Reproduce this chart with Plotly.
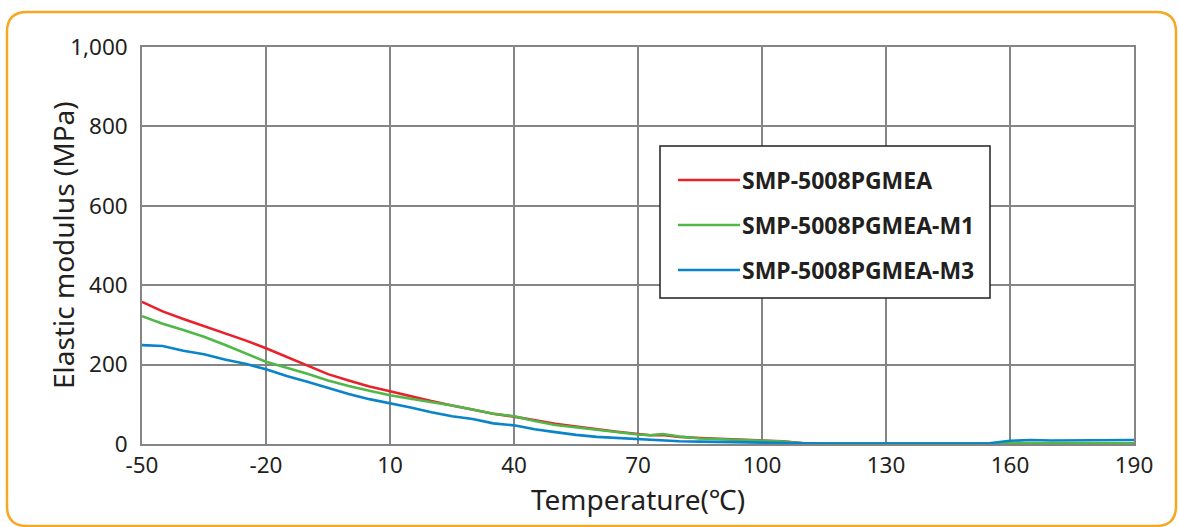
import plotly.graph_objects as go

# ---- data ----
temperature = [-50, -45, -40, -35, -30, -25, -20, -15, -10, -5, 0, 5, 10, 15, 20, 25, 30, 35, 40,
               45, 50, 55, 60, 65, 70, 73, 76, 80, 85, 90, 95, 100, 105, 110, 115, 120, 125, 130,
               135, 140, 145, 150, 155, 160, 165, 170, 175, 180, 185, 190]

smp_5008 = [358, 334, 315, 297, 280, 261, 241, 220, 198, 176, 160, 145, 133, 120, 108, 97, 86, 76, 69,
            60, 51, 44, 37, 31, 25, 22, 23, 18, 15, 13, 12, 10, 7, 2, 1, 1, 1, 1,
            1, 1, 1, 1, 1, 1, 1, 1, 1, 1, 1, 1]
smp_5008_m1 = [322, 303, 287, 270, 250, 229, 207, 192, 177, 160, 146, 134, 123, 114, 106, 97, 87, 76, 70,
               58, 48, 42, 35, 29, 24, 22, 25, 19, 14, 12, 10, 8, 6, 2, 2, 2, 2, 2,
               2, 2, 2, 2, 2, 2, 2, 2, 2, 2, 2, 2]
smp_5008_m3 = [249, 247, 235, 226, 213, 202, 188, 171, 157, 142, 126, 113, 103, 92, 80, 70, 63, 52, 47,
               37, 30, 23, 18, 15, 12, 10, 9, 7, 6, 5, 4, 4, 3, 1, 1, 1, 1, 1,
               1, 1, 1, 1, 2, 8, 10, 9, 9, 10, 10, 10]

series_names = ["SMP-5008PGMEA", "SMP-5008PGMEA-M1", "SMP-5008PGMEA-M3"]
series_values = [smp_5008, smp_5008_m1, smp_5008_m3]
series_colors = ["#e8212b", "#4fb848", "#0a84c9"]

x_ticks = [-50, -20, 10, 40, 70, 100, 130, 160, 190]
y_ticks = [0, 200, 400, 600, 800, 1000]
x_title = "Temperature(℃)"
y_title = "Elastic modulus (MPa)"

# ---- layout geometry (pixels) ----
W, H = 1179, 527
ML, MR, MT, MB = 142, 45, 47, 83
PW, PH = W - ML - MR, H - MT - MB


def px(x):
    return (x - ML) / PW


def py(y):
    return (H - MB - y) / PH


TEXT = "#231f20"
GRID = "#858585"
FONT = "Noto Sans"

fig = go.Figure()
for name, vals, col in zip(series_names, series_values, series_colors):
    fig.add_trace(go.Scatter(x=temperature, y=vals, mode="lines", name=name,
                             line=dict(color=col, width=2.6), showlegend=False))

shapes = []
# orange rounded border
x0, y0, x1, y1, r = 7, 12, 1176, 526, 20
path = (f"M {px(x0 + r)},{py(y0)} L {px(x1 - r)},{py(y0)} Q {px(x1)},{py(y0)} {px(x1)},{py(y0 + r)} "
        f"L {px(x1)},{py(y1 - r)} Q {px(x1)},{py(y1)} {px(x1 - r)},{py(y1)} "
        f"L {px(x0 + r)},{py(y1)} Q {px(x0)},{py(y1)} {px(x0)},{py(y1 - r)} "
        f"L {px(x0)},{py(y0 + r)} Q {px(x0)},{py(y0)} {px(x0 + r)},{py(y0)} Z")
shapes.append(dict(type="path", xref="paper", yref="paper", path=path,
                   line=dict(color="#f7a823", width=2.5), layer="below"))

# manual legend
lx0, ly0, lx1, ly1 = 660, 146, 990, 298
shapes.append(dict(type="rect", xref="paper", yref="paper", x0=px(lx0), y0=py(ly0), x1=px(lx1), y1=py(ly1),
                   line=dict(color="#231f20", width=1.5), fillcolor="white", layer="above"))
annotations = []
for i, (name, col) in enumerate(zip(series_names, series_colors)):
    yy = [180, 225, 270][i]
    shapes.append(dict(type="line", xref="paper", yref="paper", x0=px(678), x1=px(740), y0=py(yy), y1=py(yy),
                       line=dict(color=col, width=2.6), layer="above"))
    annotations.append(dict(xref="paper", yref="paper", x=px(740), y=py(yy), text=f"<b>{name}</b>",
                            showarrow=False, xanchor="left", yanchor="middle",
                            font=dict(size=23, color=TEXT, family=FONT)))

# y-axis title as rotated annotation (for exact placement)
annotations.append(dict(xref="paper", yref="paper", x=px(63), y=py(245), text=y_title, textangle=-90,
                        showarrow=False, xanchor="center", yanchor="middle",
                        font=dict(size=28, color=TEXT, family=FONT)))

fig.update_layout(
    width=W, height=H,
    margin=dict(l=ML, r=MR, t=MT, b=MB, pad=0),
    paper_bgcolor="white", plot_bgcolor="white",
    font=dict(family=FONT, color=TEXT, size=22),
    shapes=shapes, annotations=annotations,
    xaxis=dict(range=[-50, 190], tickvals=x_ticks, ticktext=[str(v) for v in x_ticks],
               showgrid=True, gridcolor=GRID, gridwidth=1.6, zeroline=False,
               showline=True, linecolor=GRID, linewidth=1.6, mirror=True, ticks="",
               tickfont=dict(size=22.5, color=TEXT),
               title=dict(text=x_title, font=dict(size=28, color=TEXT), standoff=4)),
    yaxis=dict(range=[0, 1000], tickvals=y_ticks, tickformat=",",
               showgrid=True, gridcolor=GRID, gridwidth=1.6, zeroline=False,
               showline=True, linecolor=GRID, linewidth=1.6, mirror=True, ticks="",
               ticklabelstandoff=8,
               tickfont=dict(size=22.5, color=TEXT)),
)

fig.write_html("out.html")
